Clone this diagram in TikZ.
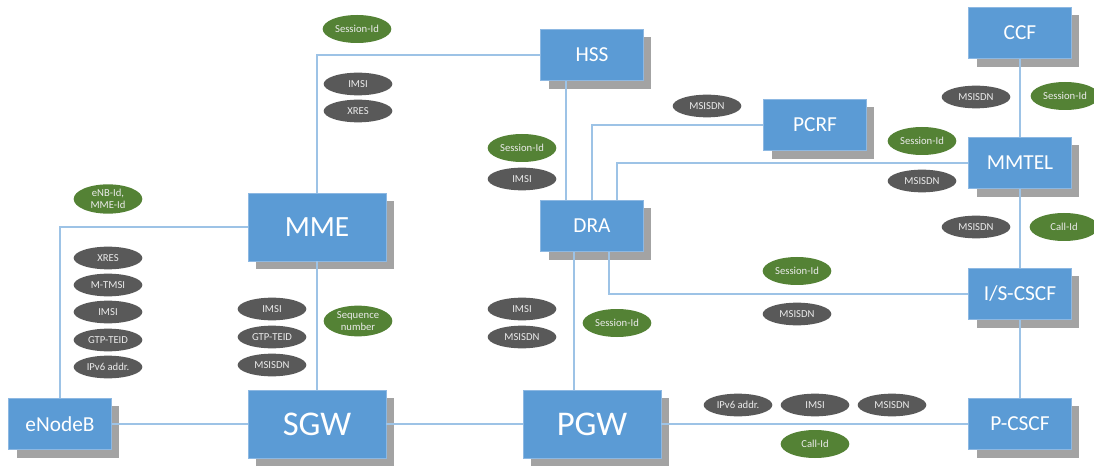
\documentclass[tikz,border=0pt]{standalone}
\usepackage{fontspec}
\setmainfont{Carlito}
\usetikzlibrary{calc,shapes.geometric,shadows}
\definecolor{boxblue}{HTML}{5B9BD5}
\definecolor{boxedge}{HTML}{8DB8E2}
\definecolor{linkblue}{HTML}{9DC3E6}
\definecolor{idgray}{HTML}{595959}
\definecolor{idgreen}{HTML}{548235}
\definecolor{shadowgray}{HTML}{A3A3A3}
\tikzset{
	netbox/.style={rectangle, fill=boxblue, draw=boxedge, line width=0.6pt, text=white, inner sep=0pt,
		drop shadow={shadow xshift=6pt, shadow yshift=-6pt, fill=shadowgray, opacity=1}},
	bigbox/.style={netbox, minimum width=103.5pt, minimum height=51pt, font=\fontsize{26}{28}\selectfont},
	smallbox/.style={netbox, minimum width=77pt, minimum height=38.5pt, font=\fontsize{16}{18}\selectfont},
	idpill/.style={ellipse, inner sep=0pt, minimum width=51.5pt, text=white!92!black, align=center,
		font=\fontsize{8}{9}\selectfont},
	grayid/.style={idpill, fill=idgray, minimum height=17pt},
	greenid/.style={idpill, fill=idgreen, minimum height=21pt},
	link/.style={draw=linkblue, line width=1pt}
}

\begin{document}
\begin{tikzpicture}[x=0.75pt, y=-0.75pt]
			%%%%% START %%%%%
			\useasboundingbox (0, 0) rectangle (1094, 466);
			
			% network elements
			\node[bigbox, font=\fontsize{22}{24}\selectfont] (mme) at (317, 227) {MME};
			\node[bigbox] (sgw) at (317, 424) {SGW};
			\node[bigbox] (pgw) at (592, 424) {PGW};
			\node[smallbox] (enb) at (60, 424) {eNodeB};
			\node[smallbox] (hss) at (592, 55) {HSS};
			\node[smallbox] (dra) at (592, 226) {DRA};
			\node[smallbox] (pcrf) at (815, 125) {PCRF};
			\node[smallbox] (ccf) at (1020, 33) {CCF};
			\node[smallbox] (mmtel) at (1020, 163) {MMTEL};
			\node[smallbox] (iscscf) at (1020, 294) {I/S-CSCF};
			\node[smallbox] (pcscf) at (1020, 424) {P-CSCF};
			
			% links
			\draw[link] (mme.north) |- (hss.west);
			\draw[link] (mme.west) -| (enb.north);
			\draw[link] (mme.south) -- (sgw.north);
			\draw[link] (enb.east) -- (sgw.west);
			\draw[link] (sgw.east) -- (pgw.west);
			\draw[link] (pgw.east) -- (pcscf.west);
			\draw[link] ($(hss.south)+(-26, 0)$) -- ($(dra.north)+(-26, 0)$);
			\draw[link] ($(dra.south)+(-18, 0)$) -- ($(pgw.north)+(-18, 0)$);
			\draw[link] (dra.north) |- (pcrf.west);
			\draw[link] ($(dra.north)+(25, 0)$) |- (mmtel.west);
			\draw[link] ($(dra.south)+(17, 0)$) |- (iscscf.west);
			\draw[link] (ccf.south) -- (mmtel.north);
			\draw[link] (mmtel.south) -- (iscscf.north);
			\draw[link] (iscscf.south) -- (pcscf.north);
			
			% MME - HSS
			\node[greenid] (sidmh) at (357, 29) {Session-Id};
			\node[grayid] (imsimh) at (358, 84) {IMSI};
			\node[grayid] (xresmh) at (358, 111) {XRES};
			
			% MME - eNodeB
			\node[greenid, minimum height=22pt] (enbid) at (108, 199) {eNB-Id,\\MME-Id};
			\node[grayid] (xresme) at (108, 258) {XRES};
			\node[grayid] (tmsime) at (108, 285) {M-TMSI};
			\node[grayid] (imsime) at (108, 312) {IMSI};
			\node[grayid] (teidme) at (108, 340) {GTP-TEID};
			\node[grayid] (ipme) at (108, 367) {IPv6 addr.};
			
			% MME - SGW
			\node[grayid] (imsims) at (272, 309) {IMSI};
			\node[grayid] (teidms) at (272, 337) {GTP-TEID};
			\node[grayid] (msisdnms) at (272, 365) {MSISDN};
			\node[greenid, minimum height=23pt] (seqms) at (358, 321) {Sequence\\number};
			
			% HSS - DRA
			\node[greenid] (sidhd) at (522, 148) {Session-Id};
			\node[grayid] (imsihd) at (522, 179) {IMSI};
			
			% DRA - PGW
			\node[grayid] (imsidp) at (522, 309) {IMSI};
			\node[grayid] (msisdndp) at (522, 337) {MSISDN};
			\node[greenid] (siddp) at (617, 323) {Session-Id};
			
			% DRA - PCRF, MMTEL, I/S-CSCF
			\node[grayid] (msisdndr) at (707, 106) {MSISDN};
			\node[greenid] (sidmt) at (922, 141) {Session-Id};
			\node[grayid] (msisdnmt) at (922, 181) {MSISDN};
			\node[greenid] (sidcs) at (797, 271) {Session-Id};
			\node[grayid] (msisdncs) at (797, 314) {MSISDN};
			
			% IMS side
			\node[grayid] (msisdncc) at (976, 97) {MSISDN};
			\node[greenid] (sidcc) at (1065, 96) {Session-Id};
			\node[grayid] (msisdnis) at (976, 227) {MSISDN};
			\node[greenid] (callis) at (1064, 227) {Call-Id};
			
			% PGW - P-CSCF
			\node[grayid] (ippc) at (738, 405) {IPv6 addr.};
			\node[grayid] (imsipc) at (815, 405) {IMSI};
			\node[grayid] (msisdnpc) at (892, 405) {MSISDN};
			\node[greenid] (callpc) at (815, 444) {Call-Id};
			
			%%%%% END %%%%%
\end{tikzpicture}
\end{document}
